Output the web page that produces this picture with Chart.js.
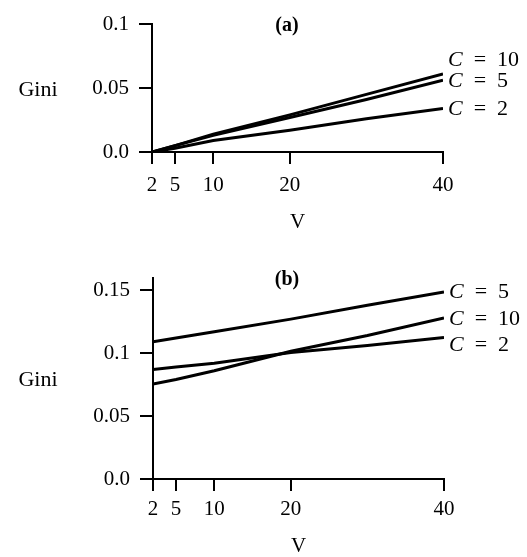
<!DOCTYPE html>
<html>
<head>
<meta charset="utf-8">
<script src="https://cdn.jsdelivr.net/npm/chart.js@4.4.1/dist/chart.umd.min.js"></script>
<style>
  html, body { margin: 0; padding: 0; background: #fff; }
  #wrap { position: relative; width: 527px; height: 557px; }
  #chartA { position: absolute; left: 0; top: 0; }
  #chartB { position: absolute; left: 0; top: 255px; }
</style>
</head>
<body>
<div id="wrap">
  <canvas id="chartA" width="527" height="255"></canvas>
  <canvas id="chartB" width="527" height="302"></canvas>
</div>
<script>
// V values (x axis) shared by both panels
const vValues = [2, 5, 10, 20, 30, 40];
const xTicks = [2, 5, 10, 20, 40];
const seriesNames = ['10', '5', '2'];

// panel (a)
const giniA_C10 = [0, 0.005, 0.014, 0.029, 0.045, 0.061];
const giniA_C5 = [0, 0.005, 0.013, 0.027, 0.041, 0.056];
const giniA_C2 = [0, 0.003, 0.009, 0.017, 0.026, 0.034];
const yTicksA = [0, 0.05, 0.1];
const yLabelsA = ['0.0', '0.05', '0.1'];

// panel (b)
const giniB_C10 = [0.0755, 0.079, 0.086, 0.1015, 0.114, 0.128];
const giniB_C5 = [0.109, 0.112, 0.117, 0.127, 0.138, 0.1485];
const giniB_C2 = [0.087, 0.089, 0.092, 0.1005, 0.106, 0.1125];
const yTicksB = [0, 0.05, 0.1, 0.15];
const yLabelsB = ['0.0', '0.05', '0.1', '0.15'];

const serif = "'Liberation Serif', 'DejaVu Serif', serif";

// draws panel letter, the Gini label and the C = .. labels at the line ends
const annotations = {
  id: 'annotations',
  afterDatasetsDraw(chart, args, opts) {
    const ctx = chart.ctx;
    const area = chart.chartArea;
    ctx.save();
    ctx.fillStyle = '#000';
    ctx.textBaseline = 'middle';

    ctx.font = 'bold 20px ' + serif;
    ctx.textAlign = 'center';
    ctx.fillText(opts.panel, 287, area.top + 2);

    ctx.font = '22px ' + serif;
    ctx.fillText('Gini', 38, (area.top + area.bottom) / 2 + 2);

    ctx.textAlign = 'left';
    chart.data.datasets.forEach((ds, i) => {
      const pts = chart.getDatasetMeta(i).data;
      const end = pts[pts.length - 1];
      const x = end.x + 5;
      const y = end.y + (ds.labelShift || 0);
      ctx.font = 'italic 22px ' + serif;
      ctx.fillText('C', x, y);
      const w = ctx.measureText('C').width;
      ctx.font = '22px ' + serif;
      ctx.fillText('  =  ' + ds.label, x + w, y);
    });
    ctx.restore();
  }
};

function makeChart(id, series, yMax, yTicks, yLabels, opt) {
  const datasets = series.map((values, i) => ({
    label: seriesNames[i],
    data: values.map((v, j) => ({ x: vValues[j], y: v })),
    borderColor: '#000',
    borderWidth: 3,
    pointRadius: 0,
    tension: 0,
    fill: false,
    labelShift: opt.shifts[i],
  }));

  return new Chart(document.getElementById(id), {
    type: 'line',
    data: { datasets },
    options: {
      responsive: false,
      animation: false,
      layout: { padding: { left: 0, top: opt.top, right: opt.right, bottom: 0 } },
      plugins: {
        legend: { display: false },
        tooltip: { enabled: false },
        annotations: { panel: opt.panel },
      },
      scales: {
        x: {
          type: 'linear',
          min: 2,
          max: 40,
          afterBuildTicks: (s) => { s.ticks = xTicks.map(v => ({ value: v })); },
          afterFit: (s) => { s.height = opt.xHeight; },
          ticks: {
            color: '#000',
            font: { family: serif, size: 21 },
            padding: opt.xPad,
            maxRotation: 0,
            autoSkip: false,
          },
          grid: { drawOnChartArea: false, drawTicks: true, tickLength: 12, color: '#000', lineWidth: 2 },
          border: { display: true, color: '#000', width: 2 },
          title: {
            display: true,
            text: 'V',
            color: '#000',
            font: { family: serif, size: 21, lineHeight: 1.0 },
            padding: { top: 0, bottom: opt.titlePad },
          },
        },
        y: {
          min: 0,
          max: yMax,
          afterBuildTicks: (s) => { s.ticks = yTicks.map(v => ({ value: v })); },
          afterFit: (s) => { s.width = opt.yWidth; },
          ticks: {
            color: '#000',
            font: { family: serif, size: 21 },
            padding: 10,
            callback: (v, i) => yLabels[i],
          },
          grid: { drawOnChartArea: false, drawTicks: true, tickLength: 13, color: '#000', lineWidth: 2 },
          border: { display: true, color: '#000', width: 2 },
        },
      },
    },
    plugins: [annotations],
  });
}

makeChart('chartA', [giniA_C10, giniA_C5, giniA_C2], 0.1, yTicksA, yLabelsA, {
  panel: '(a)', top: 24, right: 84, xHeight: 103, xPad: 9, titlePad: 22, yWidth: 152,
  shifts: [-14, 1, 1],
});

makeChart('chartB', [giniB_C10, giniB_C5, giniB_C2], 0.16, yTicksB, yLabelsB, {
  panel: '(b)', top: 19, right: 83, xHeight: 78, xPad: 6, titlePad: 0, yWidth: 153,
  shifts: [1, 0, 8],
});
</script>
</body>
</html>
